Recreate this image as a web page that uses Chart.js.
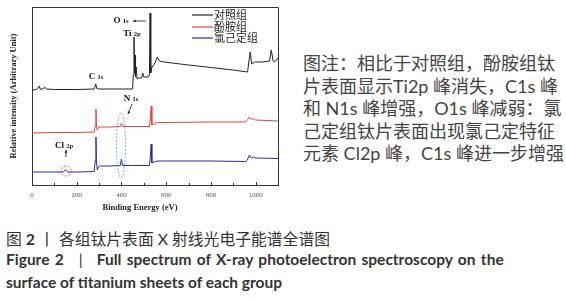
<!DOCTYPE html>
<html><head><meta charset="utf-8">
<script src="https://cdn.jsdelivr.net/npm/chart.js@4"></script>
<style>
html,body{margin:0;padding:0;background:#fff;width:566px;height:300px;overflow:hidden;}
#wrap{position:absolute;left:0;top:0;width:290px;height:214px;}
.note{position:absolute;left:303px;top:52px;font-family:"Lato","Noto Sans CJK SC";font-size:18px;line-height:22.5px;color:#444;white-space:pre;}
.cap{position:absolute;left:6px;white-space:pre;color:#333;font-family:"Lato","Noto Sans CJK SC";}
#cap1{top:227px;font-size:15.8px;}
#cap2{top:250px;font-size:15.5px;font-weight:bold;word-spacing:1.6px;}
#cap3{top:273px;font-size:15.5px;font-weight:bold;}
.bar{margin:0 14px 0 15px;font-weight:normal;}
</style></head>
<body>
<div id="wrap"><canvas id="c"></canvas></div>
<div class="note">图注：相比于对照组，酚胺组钛
片表面显示Ti2p 峰消失，C1s 峰
和 N1s 峰增强，O1s 峰减弱：氯
己定组钛片表面出现氯己定特征
元素 Cl2p 峰，C1s 峰进一步增强</div>
<div class="cap" id="cap1">图 <b>2</b> 丨 各组钛片表面 X 射线光电子能谱全谱图</div>
<div class="cap" id="cap2">Figure 2<span class="bar">|</span>Full spectrum of X-ray photoelectron spectroscopy on the</div>
<div class="cap" id="cap3">surface of titanium sheets of each group</div>
<script>
// Series names
const seriesNames = ['对照组', '酚胺组', '氯己定组'];
// Control group (对照组)
const ctrlE = [0, 20, 33, 37, 45, 58, 65, 100, 200, 278, 285, 290, 300, 400, 450, 453, 456, 459, 461, 463, 466, 470, 475, 480, 490, 495, 500, 520, 525, 528, 531, 535, 550, 560, 570, 590, 700, 800, 900, 964, 970, 976, 982, 995, 1000, 1030, 1062, 1070, 1078, 1085, 1100];
const ctrlI = [95, 95.5, 99, 95.5, 96, 97.5, 96, 95.5, 95.5, 96, 101, 96.5, 96, 96, 96, 110, 148, 112, 130, 108, 118, 106, 107, 107, 107, 112, 108, 108, 110, 172, 112, 117, 122, 128, 124, 123, 120, 117.5, 115, 113, 124, 133, 121, 123, 123, 123, 124, 135, 124, 123, 127];
// Phenolamine group (酚胺组)
const phenE = [0, 100, 200, 278, 283, 286, 288, 292, 297, 305, 350, 395, 400, 405, 450, 525, 529, 533, 536, 545, 560, 600, 800, 955, 963, 972, 980, 990, 1000, 1100];
const phenI = [52, 52.5, 52.5, 53, 60, 76, 60, 55, 58, 58, 58, 58.5, 62, 58.5, 58.5, 58.5, 66, 79, 60, 61, 62.5, 62.5, 63, 63, 65, 68, 65.5, 66.5, 65, 64];
// Chlorhexidine group (氯己定组)
const chxE = [0, 100, 140, 150, 160, 200, 278, 283, 286, 288, 292, 297, 305, 350, 395, 400, 405, 450, 525, 529, 533, 536, 545, 560, 600, 800, 955, 963, 972, 980, 990, 1000, 1100];
const chxI = [13, 13, 13, 15.5, 13, 13, 13.5, 25, 48, 25, 15, 18, 19, 19, 19.5, 26, 19.5, 19.5, 19.5, 28, 41, 22, 23, 24, 24, 24, 23.5, 25, 30, 27, 28, 27, 26.5];
const colors = ['#222222', '#dd4444', '#2a2aa0'];
// X axis tick labels
const majorTicks = [0, 200, 400, 600, 800, 1000];
const minorTicks = [100, 300, 500, 700, 900];

const toPts = (E, I) => E.map((e, i) => ({x: e, y: I[i]}));

const SERIF = '"Liberation Serif", "DejaVu Serif", serif';

const deco = {
  id: 'deco',
  afterDraw(chart) {
    const ctx = chart.ctx;
    const a = chart.chartArea;
    const xs = chart.scales.x;
    ctx.save();
    // frame top & right
    ctx.strokeStyle = '#333';
    ctx.lineWidth = 1;
    ctx.beginPath();
    ctx.moveTo(a.left, a.top + 0.5); ctx.lineTo(a.right + 0.5, a.top + 0.5);
    ctx.lineTo(a.right + 0.5, a.bottom);
    ctx.stroke();
    // inward ticks
    ctx.beginPath();
    majorTicks.forEach(v => { const x = Math.round(xs.getPixelForValue(v)) + 0.5; ctx.moveTo(x, a.bottom); ctx.lineTo(x, a.bottom - 3); });
    minorTicks.forEach(v => { const x = Math.round(xs.getPixelForValue(v)) + 0.5; ctx.moveTo(x, a.bottom); ctx.lineTo(x, a.bottom - 2); });
    ctx.stroke();
    // x title
    ctx.fillStyle = '#222';
    ctx.font = 'bold 8.5px ' + SERIF;
    ctx.textAlign = 'center';
    ctx.textBaseline = 'middle';
    ctx.fillText('Binding Energy (eV)', 140, 208);
    // peak labels
    const lab = (big, small, x, y) => {
      ctx.font = 'bold 9px ' + SERIF;
      const w1 = ctx.measureText(big + ' ').width;
      ctx.font = 'bold 6.5px ' + SERIF;
      const w2 = ctx.measureText(small).width;
      let sx = x - (w1 + w2) / 2;
      ctx.textAlign = 'left';
      ctx.font = 'bold 9px ' + SERIF;
      ctx.fillText(big + ' ', sx, y);
      ctx.font = 'bold 6.5px ' + SERIF;
      ctx.fillText(small, sx + w1, y + 0.5);
    };
    ctx.fillStyle = '#111';
    lab('O', '1s', 121, 21);
    lab('Ti', '2p', 132, 34);
    lab('C', '1s', 96, 77);
    lab('N', '1s', 131, 99);
    lab('Cl', '2p', 64, 146);
    // arrows
    const arrow = (x1, y1, x2, y2) => {
      ctx.strokeStyle = '#111';
      ctx.lineWidth = 0.8;
      ctx.beginPath(); ctx.moveTo(x1, y1); ctx.lineTo(x2, y2); ctx.stroke();
      const ang = Math.atan2(y2 - y1, x2 - x1);
      ctx.beginPath();
      ctx.moveTo(x2, y2);
      ctx.lineTo(x2 - 3 * Math.cos(ang - 0.45), y2 - 3 * Math.sin(ang - 0.45));
      ctx.lineTo(x2 - 3 * Math.cos(ang + 0.45), y2 - 3 * Math.sin(ang + 0.45));
      ctx.closePath(); ctx.fillStyle = '#111'; ctx.fill();
    };
    arrow(146, 21, 133, 21);
    arrow(132, 104, 128, 114);
    arrow(66, 157, 66, 150);
    // ellipses
    ctx.setLineDash([2, 1.5]);
    ctx.lineWidth = 0.8;
    ctx.strokeStyle = '#d04050';
    ctx.beginPath(); ctx.ellipse(66, 171, 5, 5, 0, 0, Math.PI * 2); ctx.stroke();
    ctx.strokeStyle = '#5a8fc0';
    ctx.beginPath(); ctx.ellipse(121, 145.5, 4.5, 32.5, 0, 0, Math.PI * 2); ctx.stroke();
    ctx.setLineDash([]);
    // legend
    const ly = [15, 27, 38];
    seriesNames.forEach((n, i) => {
      ctx.strokeStyle = colors[i];
      ctx.lineWidth = 1.2;
      ctx.beginPath(); ctx.moveTo(192, ly[i]); ctx.lineTo(213, ly[i]); ctx.stroke();
      ctx.fillStyle = '#222';
      ctx.font = '11px "Noto Sans CJK SC"';
      ctx.textAlign = 'left';
      ctx.textBaseline = 'middle';
      ctx.fillText(n, 214, ly[i]);
    });
    ctx.restore();
  }
};

new Chart(document.getElementById('c'), {
  type: 'line',
  data: {
    datasets: [
      {label: seriesNames[0], data: toPts(ctrlE, ctrlI), borderColor: colors[0]},
      {label: seriesNames[1], data: toPts(phenE, phenI), borderColor: colors[1]},
      {label: seriesNames[2], data: toPts(chxE, chxI), borderColor: colors[2]}
    ]
  },
  options: {
    responsive: true,
    maintainAspectRatio: false,
    animation: false,
    events: [],
    layout: {padding: {top: 7, right: 12, left: 0, bottom: 0}},
    elements: {line: {borderWidth: 1, tension: 0}, point: {radius: 0}},
    plugins: {legend: {display: false}, tooltip: {enabled: false}},
    scales: {
      x: {
        type: 'linear', min: 0, max: 1100,
        afterBuildTicks: s => { s.ticks = majorTicks.map(v => ({value: v})); },
        afterFit: s => { s.height = 29; },
        grid: {display: false, drawTicks: false},
        border: {display: true, color: '#333', width: 1},
        ticks: {font: {family: SERIF, size: 7}, color: '#555', padding: 6, maxRotation: 0, autoSkip: false,
          callback: v => String(v)}
      },
      y: {
        min: 0, max: 178,
        afterFit: s => { s.width = 32; },
        grid: {display: false, drawTicks: false},
        border: {display: true, color: '#333', width: 1},
        ticks: {display: false},
        title: {display: true, text: 'Relative intensity (Arbitrary Unit)', color: '#222',
          font: {family: SERIF, size: 8.5, weight: 'bold'}, padding: {top: 9, bottom: 0}}
      }
    }
  },
  plugins: [deco]
});
</script>
</body></html>
